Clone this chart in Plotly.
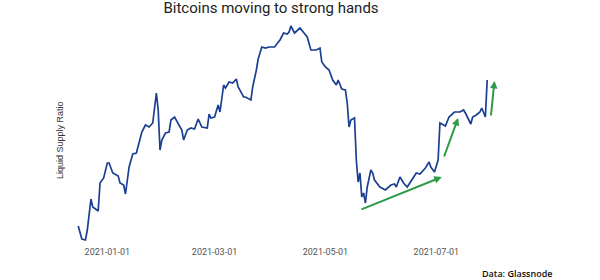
import plotly.graph_objects as go

# ---- data ----
dates = [
    "2020-12-16", "2020-12-18", "2020-12-20", "2020-12-21", "2020-12-23", "2020-12-24",
    "2020-12-27", "2020-12-28", "2020-12-30",
    "2021-01-01", "2021-01-02", "2021-01-04", "2021-01-07", "2021-01-08", "2021-01-10",
    "2021-01-11", "2021-01-13", "2021-01-15", "2021-01-17", "2021-01-19", "2021-01-20",
    "2021-01-22", "2021-01-24", "2021-01-26", "2021-01-28", "2021-01-29", "2021-01-30",
    "2021-01-31",
    "2021-02-02", "2021-02-04", "2021-02-05", "2021-02-07", "2021-02-09", "2021-02-11",
    "2021-02-12", "2021-02-14", "2021-02-16", "2021-02-18", "2021-02-20", "2021-02-22",
    "2021-02-25", "2021-02-26", "2021-02-27",
    "2021-03-01", "2021-03-03", "2021-03-04", "2021-03-06", "2021-03-07", "2021-03-09",
    "2021-03-11", "2021-03-13", "2021-03-14", "2021-03-17", "2021-03-18", "2021-03-21",
    "2021-03-22", "2021-03-24", "2021-03-25", "2021-03-27", "2021-03-29", "2021-03-31",
    "2021-04-03", "2021-04-06", "2021-04-08", "2021-04-10", "2021-04-11", "2021-04-12",
    "2021-04-14", "2021-04-17", "2021-04-19", "2021-04-21", "2021-04-23", "2021-04-26",
    "2021-04-28", "2021-04-29",
    "2021-05-01", "2021-05-03", "2021-05-05", "2021-05-07", "2021-05-08", "2021-05-10",
    "2021-05-12", "2021-05-13", "2021-05-14", "2021-05-15", "2021-05-17", "2021-05-18",
    "2021-05-19", "2021-05-20", "2021-05-21", "2021-05-22", "2021-05-23", "2021-05-24",
    "2021-05-26", "2021-05-27", "2021-05-28", "2021-05-31",
    "2021-06-03", "2021-06-06", "2021-06-08", "2021-06-09", "2021-06-11", "2021-06-13",
    "2021-06-15", "2021-06-16", "2021-06-20", "2021-06-22", "2021-06-23", "2021-06-25",
    "2021-06-27", "2021-06-28", "2021-06-30",
    "2021-07-02", "2021-07-03", "2021-07-04", "2021-07-06", "2021-07-08", "2021-07-11",
    "2021-07-14", "2021-07-16", "2021-07-17", "2021-07-20", "2021-07-21", "2021-07-23",
    "2021-07-25", "2021-07-26", "2021-07-28", "2021-07-29",
]
liquid_supply_ratio = [
    0.224, 0.211, 0.210, 0.220, 0.251, 0.243,
    0.239, 0.267, 0.272,
    0.287, 0.287, 0.277, 0.274, 0.267, 0.265,
    0.256, 0.283, 0.296, 0.297, 0.310, 0.318,
    0.325, 0.323, 0.327, 0.357, 0.340, 0.300,
    0.310,
    0.317, 0.318, 0.330, 0.333, 0.327, 0.320,
    0.310, 0.320, 0.322, 0.321, 0.331, 0.323,
    0.322, 0.336, 0.332,
    0.333, 0.345, 0.338, 0.365, 0.362, 0.368,
    0.367, 0.371, 0.363, 0.353, 0.353, 0.350,
    0.363, 0.380, 0.391, 0.403, 0.402, 0.403,
    0.403, 0.410, 0.417, 0.416, 0.418, 0.424,
    0.417, 0.422, 0.418, 0.413, 0.400, 0.400,
    0.402, 0.388,
    0.383, 0.380, 0.370, 0.365, 0.370, 0.361,
    0.360, 0.347, 0.323, 0.330, 0.332, 0.290,
    0.268, 0.277, 0.253, 0.257, 0.247, 0.263,
    0.280, 0.277, 0.270, 0.263,
    0.260, 0.265, 0.266, 0.263, 0.273, 0.267,
    0.263, 0.266, 0.277, 0.276, 0.278, 0.282,
    0.288, 0.283, 0.278,
    0.290, 0.327, 0.326, 0.324, 0.333, 0.338,
    0.338, 0.340, 0.337, 0.326, 0.333, 0.335,
    0.338, 0.342, 0.333, 0.370,
]

tick_dates = ["2021-01-01", "2021-03-01", "2021-05-01", "2021-07-01"]
tick_labels = ["2021-01-01", "2021-03-01", "2021-05-01", "2021-07-01"]

# trend arrows: (tail date, tail value) -> (head date, head value)
arrow_tail_dates = ["2021-05-20", "2021-07-05", "2021-07-31"]
arrow_tail_values = [0.240, 0.292, 0.333]
arrow_head_dates = ["2021-07-04", "2021-07-13", "2021-08-02"]
arrow_head_values = [0.273, 0.332, 0.369]

title_text = "Bitcoins moving to strong hands"
y_title = "Liquid Supply Ratio"
source_text = "Data: Glassnode"

LINE_COLOR = "#1b3f91"
ARROW_COLOR = "#2c9b47"

fig = go.Figure()
fig.add_trace(go.Scatter(
    x=dates, y=liquid_supply_ratio, mode="lines",
    line=dict(color=LINE_COLOR, width=1.7),
    showlegend=False, hoverinfo="x+y",
))

annotations = []
for td, tv, hd, hv in zip(arrow_tail_dates, arrow_tail_values, arrow_head_dates, arrow_head_values):
    annotations.append(dict(
        x=hd, y=hv, ax=td, ay=tv, xref="x", yref="y", axref="x", ayref="y",
        text="", showarrow=True, arrowhead=2, arrowsize=0.75, arrowwidth=2,
        arrowcolor=ARROW_COLOR,
    ))

annotations.append(dict(
    text=y_title, textangle=-90, xref="paper", yref="paper",
    x=-0.0222, y=0.4636, xanchor="center", yanchor="middle", showarrow=False,
    font=dict(family="Liberation Sans, Arial, sans-serif", size=9, color="#333333"),
))
annotations.append(dict(
    text=source_text, xref="paper", yref="paper",
    x=0.9933, y=-0.143, xanchor="center", yanchor="middle", showarrow=False,
    font=dict(family="Open Sans, sans-serif", size=9, color="#111111", weight=600),
))

fig.update_layout(
    width=600, height=280,
    margin=dict(l=70, r=80, t=22, b=38),
    paper_bgcolor="white", plot_bgcolor="white",
    title=dict(
        text=title_text, xref="container", yref="container",
        x=0.4517, y=0.972, xanchor="center", yanchor="middle",
        font=dict(family="Roboto, sans-serif", size=15, color="#222222"),
    ),
    xaxis=dict(
        range=["2020-12-11 11:30", "2021-08-16 01:12"],
        tickvals=tick_dates, ticktext=tick_labels,
        showgrid=False, zeroline=False, showline=False, ticks="",
        ticklabelstandoff=3,
        tickfont=dict(family="Roboto, sans-serif", size=9, color="#555555"),
    ),
    yaxis=dict(
        range=[0.208, 0.428],
        showticklabels=False, showgrid=False, zeroline=False, showline=False, ticks="",
    ),
    annotations=annotations,
)

fig.write_html("out.html")
